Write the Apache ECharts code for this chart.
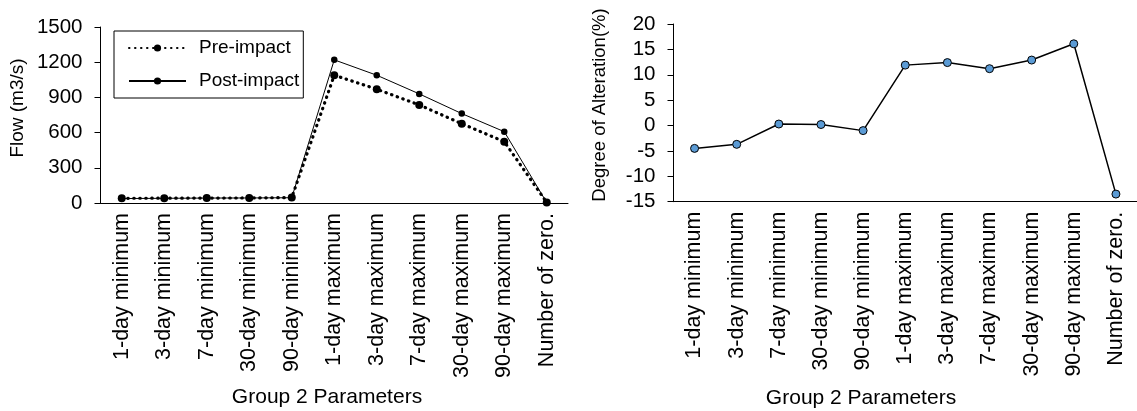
<!DOCTYPE html>
<html>
<head>
<meta charset="utf-8">
<script src="https://cdn.jsdelivr.net/npm/echarts@6/dist/echarts.min.js"></script>
<style>
html,body{margin:0;padding:0;background:#fff;}
#chart{width:1137px;height:411px;}
</style>
</head>
<body>
<div id="chart"></div>
<script>
// ---- data ----
const categories = ['1-day minimum','3-day minimum','7-day minimum','30-day minimum','90-day minimum',
  '1-day maximum','3-day maximum','7-day maximum','30-day maximum','90-day maximum','Number of zero.'];
const preImpact  = [40, 41, 42, 43, 46, 1089, 970, 836, 676, 523, 4];
const postImpact = [38, 40, 42, 43, 45, 1220, 1089, 930, 762, 608, 3.5];
const alteration = [-4.5, -3.7, 0.3, 0.2, -1.0, 11.9, 12.4, 11.2, 12.9, 16.1, -13.5];
const flowTicks = {min: 0, max: 1500, interval: 300};
const altTicks = {min: -15, max: 20, interval: 5};

const FONT = 'Liberation Sans, Arial, sans-serif';
const chart = echarts.init(document.getElementById('chart'), null, {renderer: 'canvas'});

function xAxisCfg(gridIndex) {
  return {
    type: 'category', gridIndex: gridIndex, data: categories, boundaryGap: true,
    axisLine: {onZero: false, lineStyle: {color: '#000', width: 1}},
    axisTick: {alignWithLabel: true, length: 5, lineStyle: {color: '#000'}},
    axisLabel: {rotate: 90, interval: 0, margin: 10, color: '#000', fontFamily: FONT, fontSize: 21.5},
    splitLine: {show: false}
  };
}
function yAxisCfg(gridIndex, t) {
  return {
    type: 'value', gridIndex: gridIndex, min: t.min, max: t.max, interval: t.interval,
    axisLine: {show: true, lineStyle: {color: '#000', width: 1}},
    axisTick: {show: true, length: 6, lineStyle: {color: '#000'}},
    axisLabel: {margin: 18, color: '#000', fontFamily: FONT, fontSize: 20.5,
      formatter: function (v) { return String(v); }},
    splitLine: {show: false}
  };
}

const option = {
  backgroundColor: '#fff',
  animation: false,
  grid: [
    {left: 100.5, top: 27, width: 467.5, height: 176},
    {left: 673.5, top: 24, width: 468.6, height: 177.7}
  ],
  xAxis: [xAxisCfg(0), xAxisCfg(1)],
  yAxis: [yAxisCfg(0, flowTicks), yAxisCfg(1, altTicks)],
  legend: {
    orient: 'vertical', left: 114, top: 31,
    data: ['Pre-impact', 'Post-impact'],
    borderColor: '#000', borderWidth: 1,
    padding: [7, 4, 7, 14],
    itemWidth: 57, itemHeight: 9, itemGap: 13,
    textStyle: {color: '#000', fontFamily: FONT, fontSize: 19, lineHeight: 20, padding: [0, 0, 0, 8]}
  },
  graphic: [
    {type: 'text', x: 18, y: 108, rotation: Math.PI / 2,
     style: {text: 'Flow (m3/s)', fill: '#000', font: '19px ' + FONT, textAlign: 'center', textVerticalAlign: 'middle'}},
    {type: 'text', x: 600, y: 105, rotation: Math.PI / 2,
     style: {text: 'Degree of Alteration(%)', fill: '#000', font: '18.5px ' + FONT, textAlign: 'center', textVerticalAlign: 'middle'}},
    {type: 'text', x: 327, y: 397,
     style: {text: 'Group 2 Parameters', fill: '#000', font: '21px ' + FONT, textAlign: 'center', textVerticalAlign: 'middle'}},
    {type: 'text', x: 861, y: 398,
     style: {text: 'Group 2 Parameters', fill: '#000', font: '21px ' + FONT, textAlign: 'center', textVerticalAlign: 'middle'}}
  ],
  series: [
    {
      name: 'Post-impact', type: 'line', xAxisIndex: 0, yAxisIndex: 0, data: postImpact,
      symbol: 'circle', symbolSize: 6.5, color: '#000',
      lineStyle: {color: '#000', width: 1},
      itemStyle: {color: '#000'}, z: 2
    },
    {
      name: 'Pre-impact', type: 'line', xAxisIndex: 0, yAxisIndex: 0, data: preImpact,
      symbol: 'circle', symbolSize: 8, color: '#000',
      lineStyle: {color: '#000', width: 3.2, type: [0.5, 5.5], cap: 'round'},
      itemStyle: {color: '#000'}, z: 3
    },
    {
      name: 'Alteration', type: 'line', xAxisIndex: 1, yAxisIndex: 1, data: alteration,
      symbol: 'circle', symbolSize: 8,
      lineStyle: {color: '#000', width: 1.5},
      itemStyle: {color: '#5B9BD5', borderColor: '#000', borderWidth: 1}
    }
  ]
};
chart.setOption(option);
</script>
</body>
</html>
